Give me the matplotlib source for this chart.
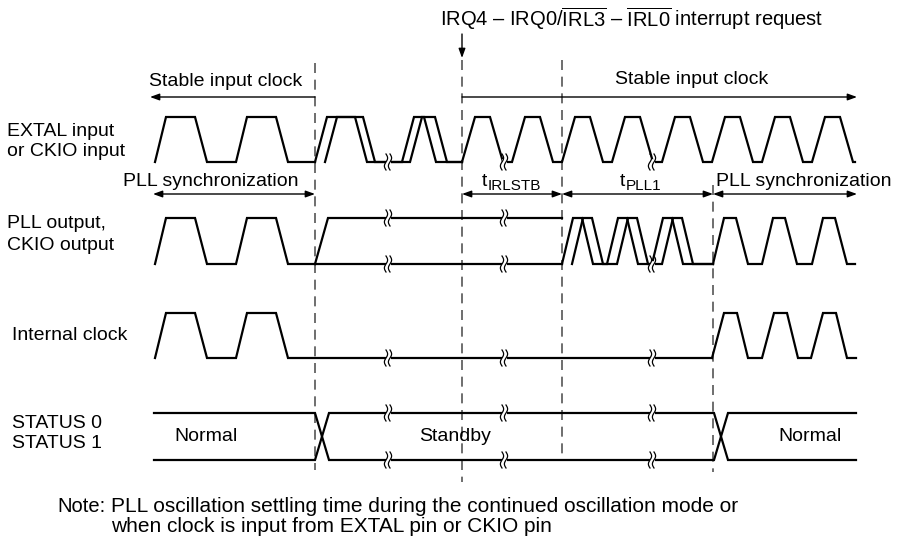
import numpy as np
import matplotlib.pyplot as plt

plt.rcParams['font.family'] = ['Liberation Sans', 'DejaVu Sans']
plt.rcParams['mathtext.fontset'] = 'custom'
plt.rcParams['mathtext.rm'] = 'Liberation Sans'

# signal levels (high, low) for each row
extal_lv = (117, 162)
pll_lv = (218, 264)
int_lv = (313, 358)
status_lv = (413, 460)

# slow clock before standby: rising edge times
slow_rises = [155, 236]
slow_end = 315

# EXTAL jitter pulses while going into standby (early / late edges)
extal_early = [315, 402]
extal_early_tops = [28, 10]
extal_late = [325, 410]
extal_late_tops = [26, 13]
jitter_end = 462

# EXTAL stable clock after the interrupt
extal_fast = [462, 512, 562, 612, 662, 712, 762, 812]
fast_end = 855

# PLL output
pll_hold = (315, 562)
pll_early = [562, 607, 652]
pll_late = [572, 617, 662]
pll_lock = 713
pll_fast = [713, 762, 812]

# internal clock after return to normal
int_fast = [712, 762, 811]

# status bus transitions
status_start, status_end = 154, 856
status_x = [315, 714]
status_text = ['Normal', 'Standby', 'Normal']
status_text_x = [206, 455, 810]

# time-break marks
breaks = [388, 504, 652]

# vertical reference lines: x, top, bottom
vlines = [(315, 63, 470), (462, 60, 482), (562, 60, 458), (713, 185, 472)]

row_labels = [('EXTAL input', 7, 131), ('or CKIO input', 7, 152),
              ('PLL output,', 7, 224), ('CKIO output', 7, 246),
              ('Internal clock', 12, 335),
              ('STATUS 0', 12, 423), ('STATUS 1', 12, 443)]

note_lines = ['PLL oscillation settling time during the continued oscillation mode or',
              'when clock is input from EXTAL pin or CKIO pin']

FS = 14
LW = 1.6


def clock(rises, rise, tops, fall, lv, end):
    """Build the outline of a clock from its rising edge times."""
    hi, lo = lv
    if np.isscalar(tops):
        tops = [tops] * len(rises)
    xs, ys = [], []
    for r, t in zip(rises, tops):
        xs += [r, r + rise, r + rise + t, r + rise + t + fall]
        ys += [lo, hi, hi, lo]
    xs.append(end)
    ys.append(lo)
    return xs, ys


def wave(ax, xs, ys):
    ax.plot(xs, ys, color='black', lw=LW, solid_joinstyle='miter', zorder=3)


def break_mark(ax, x, y):
    # white gap in the line, then two small wavy strokes
    ax.plot([x - 2.5, x + 2.5], [y, y], color='white', lw=4, zorder=4,
            solid_capstyle='butt')
    t = np.linspace(0, 1, 30)
    for dx in (-2, 2):
        ax.plot(x + dx + 1.6 * np.sin(2 * np.pi * t), y - 8 + 16 * t,
                color='black', lw=0.9, zorder=5)


def arrow(ax, x0, x1, y, style):
    ax.annotate('', xy=(x1, y), xytext=(x0, y),
                arrowprops=dict(arrowstyle=style + ',head_length=0.55,head_width=0.2',
                                color='black', lw=1.0, shrinkA=0, shrinkB=0))


fig = plt.figure(figsize=(9.06, 5.38), dpi=100)
ax = fig.add_axes([0, 0, 1, 1])
ax.set_xlim(0, 906)
ax.set_ylim(538, 0)
ax.axis('off')

# EXTAL
wave(ax, *clock(slow_rises, 11, 29, 12, extal_lv, slow_end))
wave(ax, *clock(extal_early, 12, extal_early_tops, 12, extal_lv, jitter_end))
wave(ax, *clock(extal_late, 12, extal_late_tops, 12, extal_lv, jitter_end))
wave(ax, *clock(extal_fast, 13, 15, 13, extal_lv, fast_end))

# PLL output
wave(ax, *clock(slow_rises, 11, 29, 12, pll_lv, slow_end))
wave(ax, [pll_hold[0], pll_hold[0] + 13, pll_hold[1]], [pll_lv[1], pll_lv[0], pll_lv[0]])
wave(ax, [pll_hold[0], pll_hold[1]], [pll_lv[1], pll_lv[1]])
wave(ax, *clock(pll_early, 11, 9, 11, pll_lv, pll_lock))
wave(ax, *clock(pll_late, 11, 9, 11, pll_lv, pll_lock))
wave(ax, *clock(pll_fast, 11, 12, 12, pll_lv, fast_end))

# internal clock
wave(ax, *clock(slow_rises, 11, 29, 12, int_lv, int_fast[0]))
wave(ax, *clock(int_fast, 12, 13, 11, int_lv, status_end))

# status bus
hi, lo = status_lv
w = 14
bx_top = [status_start]
by_top = [hi]
bx_bot = [status_start]
by_bot = [lo]
for sx in status_x:
    bx_top += [sx, sx + w]
    by_top += [hi, lo]
    bx_bot += [sx, sx + w]
    by_bot += [lo, hi]
    # swap so the lines continue on the right level
    bx_top, bx_bot = bx_bot, bx_top
    by_top, by_bot = by_bot, by_top
bx_top.append(status_end)
by_top.append(by_top[-1])
bx_bot.append(status_end)
by_bot.append(by_bot[-1])
wave(ax, bx_top, by_top)
wave(ax, bx_bot, by_bot)
for label, tx in zip(status_text, status_text_x):
    ax.text(tx, (hi + lo) / 2, label, fontsize=FS, ha='center', va='center', zorder=6)

# break marks
for bx in breaks:
    break_mark(ax, bx, extal_lv[1])
    if bx < pll_hold[1]:
        break_mark(ax, bx, pll_lv[0])
    break_mark(ax, bx, pll_lv[1])
    break_mark(ax, bx, int_lv[1])
    break_mark(ax, bx, status_lv[0])
    break_mark(ax, bx, status_lv[1])

# dashed reference lines
for x, y0, y1 in vlines:
    ax.plot([x, x], [y0, y1], color='#555555', lw=1.2, dashes=(6, 4), zorder=2)

# interrupt arrow and title
ax.annotate('', xy=(462, 58), xytext=(462, 34),
            arrowprops=dict(arrowstyle='-|>,head_length=0.55,head_width=0.2',
                            color='black', lw=1.0, shrinkA=0, shrinkB=0))
ax.text(440, 19, 'IRQ4 – IRQ0/$\\overline{\\mathrm{IRL3}}$ – $\\overline{\\mathrm{IRL0}}$ interrupt request',
        fontsize=14.5, ha='left', va='center')

# stable input clock arrows
ax.text(226, 82, 'Stable input clock', fontsize=FS, ha='center', va='center')
arrow(ax, 315, 150, 97, '-|>')
ax.text(692, 79, 'Stable input clock', fontsize=FS, ha='center', va='center')
arrow(ax, 462, 857, 97, '-|>')

# timing arrows
ax.text(211, 181, 'PLL synchronization', fontsize=FS, ha='center', va='center')
arrow(ax, 153, 315, 194, '<|-|>')
arrow(ax, 462, 562, 194, '<|-|>')
arrow(ax, 562, 713, 194, '<|-|>')
arrow(ax, 713, 857, 194, '<|-|>')
ax.text(804, 181, 'PLL synchronization', fontsize=FS, ha='center', va='center')
ax.text(482, 186, 't', fontsize=FS, ha='left', va='baseline')
ax.text(488, 190, 'IRLSTB', fontsize=11, ha='left', va='baseline')
ax.text(620, 186, 't', fontsize=FS, ha='left', va='baseline')
ax.text(626, 190, 'PLL1', fontsize=11, ha='left', va='baseline')

# row labels
for text, x, y in row_labels:
    ax.text(x, y, text, fontsize=FS, ha='left', va='center')

# note
ax.text(57, 507, 'Note:', fontsize=14.5, ha='left', va='center')
for i, line in enumerate(note_lines):
    ax.text(111, 507 + 20 * i, line, fontsize=15, ha='left', va='center')

fig.savefig('out.png', dpi=100)
